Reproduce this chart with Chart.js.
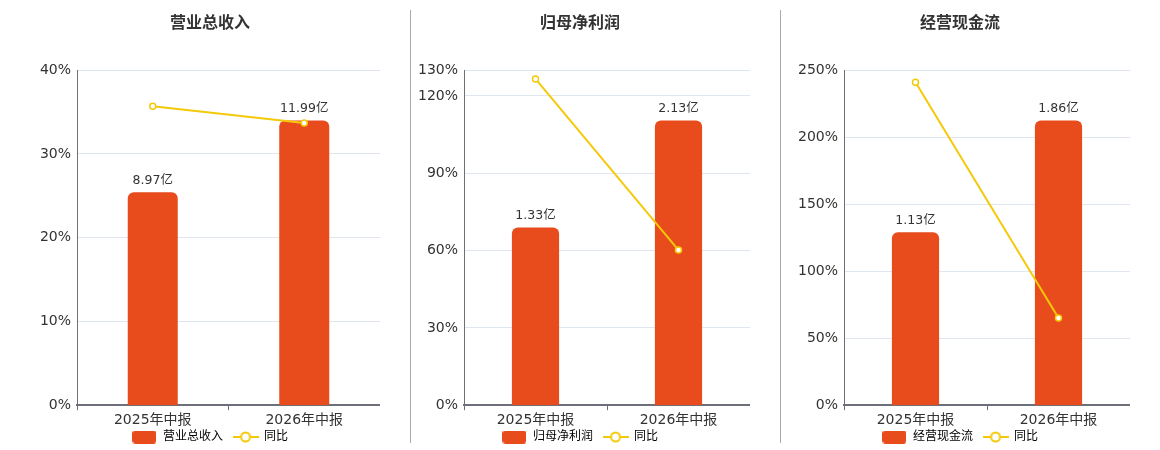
<!DOCTYPE html>
<html>
<head>
<meta charset="utf-8">
<script src="https://cdn.jsdelivr.net/npm/chart.js@4.4.1/dist/chart.umd.min.js"></script>
<style>
  body { margin: 0; background: #fff; overflow: hidden; }
  #wrap { position: relative; width: 1160px; height: 450px; }
  .panel { position: absolute; top: 0; width: 340px; height: 463px; }
  .sep { position: absolute; top: 10px; width: 1px; height: 433px; background: #aaa; }
</style>
</head>
<body>
<div id="wrap">
  <div class="panel" style="left:40px"><canvas id="c1"></canvas></div>
  <div class="panel" style="left:410px"><canvas id="c2"></canvas></div>
  <div class="panel" style="left:790px"><canvas id="c3"></canvas></div>
  <div class="sep" style="left:410px"></div>
  <div class="sep" style="left:780px"></div>
</div>
<script>
// data (amounts in 亿, yoy in %)
var categories = ['2025年中报', '2026年中报'];
var revenue = [8.97, 11.99];
var revenueYoy = [35.7, 33.7];
var profit = [1.33, 2.13];
var profitYoy = [126.6, 60.2];
var cashflow = [1.13, 1.86];
var cashflowYoy = [241.0, 65.0];
var revenueTicks = [0, 10, 20, 30, 40];
var profitTicks = [0, 30, 60, 90, 120, 130];
var cashflowTicks = [0, 50, 100, 150, 200, 250];

var barColor = '#E84C1D';
var lineColor = '#F4C90A';
var fontFamily = "'DejaVu Sans', 'Noto Sans CJK SC', sans-serif";

// legend icons
var barIcon = document.createElement('canvas');
barIcon.width = 24; barIcon.height = 13;
(function () {
    var g = barIcon.getContext('2d');
    g.fillStyle = barColor;
    g.beginPath();
    g.roundRect(0, 0, 24, 13, 3);
    g.fill();
})();
var lineIcon = document.createElement('canvas');
lineIcon.width = 26; lineIcon.height = 12;
(function () {
    var g = lineIcon.getContext('2d');
    g.strokeStyle = lineColor;
    g.lineWidth = 2;
    g.beginPath();
    g.moveTo(0, 6); g.lineTo(26, 6);
    g.stroke();
    g.beginPath();
    g.arc(13, 6, 4.5, 0, Math.PI * 2);
    g.fillStyle = '#fff';
    g.fill();
    g.stroke();
})();

var barLabels = {
    id: 'barLabels',
    afterDatasetsDraw: function (chart) {
        var ctx = chart.ctx;
        var meta = chart.getDatasetMeta(0);
        var data = chart.data.datasets[0].data;
        ctx.save();
        ctx.font = '12.5px ' + fontFamily;
        ctx.fillStyle = '#333';
        ctx.textAlign = 'center';
        ctx.textBaseline = 'bottom';
        meta.data.forEach(function (bar, i) {
            ctx.fillText(data[i].toFixed(2) + '亿', bar.x, bar.y - 5);
        });
        ctx.restore();
    }
};

// pull the legend up closer to the axis labels
var legendShift = {
    id: 'legendShift',
    afterLayout: function (chart) {
        chart.legend.top -= 10;
        chart.legend.bottom -= 10;
    }
};

function makePanel(id, title, values, yoy, yTicks, yWidth) {
    var ctx = document.getElementById(id).getContext('2d');
    return new Chart(ctx, {
        type: 'bar',
        data: {
            labels: categories,
            datasets: [{
                label: title,
                data: values,
                yAxisID: 'y1',
                backgroundColor: barColor,
                borderRadius: { topLeft: 6, topRight: 6 },
                borderSkipped: 'bottom',
                categoryPercentage: 1,
                barPercentage: 0.33,
                order: 1
            }, {
                type: 'line',
                label: '同比',
                data: yoy,
                yAxisID: 'y',
                borderColor: lineColor,
                borderWidth: 2,
                pointRadius: 3,
                pointBorderWidth: 1.5,
                pointBackgroundColor: '#fff',
                pointBorderColor: lineColor,
                order: 0
            }]
        },
        options: {
            responsive: true,
            maintainAspectRatio: false,
            animation: false,
            layout: { padding: 0, autoPadding: false },
            plugins: {
                title: {
                    display: true,
                    text: title,
                    color: '#333',
                    font: { family: fontFamily, size: 16, weight: 'bold' },
                    padding: { top: 14, bottom: 37 }
                },
                legend: {
                    position: 'bottom',
                    labels: {
                        usePointStyle: true,
                        pointStyleWidth: 25,
                        padding: 10,
                        color: '#333',
                        font: { family: fontFamily, size: 12 },
                        generateLabels: function () {
                            return [
                                { text: title, pointStyle: barIcon, fillStyle: barColor, strokeStyle: barColor, lineWidth: 0, datasetIndex: 0, hidden: false },
                                { text: '同比', pointStyle: lineIcon, fillStyle: '#fff', strokeStyle: lineColor, lineWidth: 0, datasetIndex: 1, hidden: false }
                            ];
                        }
                    }
                },
                tooltip: { enabled: false }
            },
            scales: {
                x: {
                    afterFit: function (scale) { scale.paddingRight = 0; scale.paddingLeft = 0; },
                    grid: { drawOnChartArea: false, drawTicks: true, tickLength: 5, color: '#6E7079', offset: true },
                    border: { color: '#6E7079', width: 2 },
                    ticks: { color: '#333', padding: 2, font: { family: fontFamily, size: 14 } }
                },
                y: {
                    min: yTicks[0],
                    max: yTicks[yTicks.length - 1],
                    afterBuildTicks: function (scale) {
                        scale.ticks = yTicks.map(function (v) { return { value: v }; });
                    },
                    afterFit: function (scale) { scale.width = yWidth; },
                    grid: { color: '#E0E6F1', drawTicks: false },
                    border: { color: '#6E7079', width: 1 },
                    ticks: {
                        color: '#333',
                        padding: 6,
                        font: { family: fontFamily, size: 14 },
                        callback: function (v) { return v + '%'; }
                    }
                },
                y1: {
                    display: false,
                    min: 0,
                    max: Math.max.apply(null, values) / 0.85
                }
            }
        },
        plugins: [barLabels, legendShift]
    });
}

makePanel('c1', '营业总收入', revenue, revenueYoy, revenueTicks, 37);
makePanel('c2', '归母净利润', profit, profitYoy, profitTicks, 54);
makePanel('c3', '经营现金流', cashflow, cashflowYoy, cashflowTicks, 54);
</script>
</body>
</html>
